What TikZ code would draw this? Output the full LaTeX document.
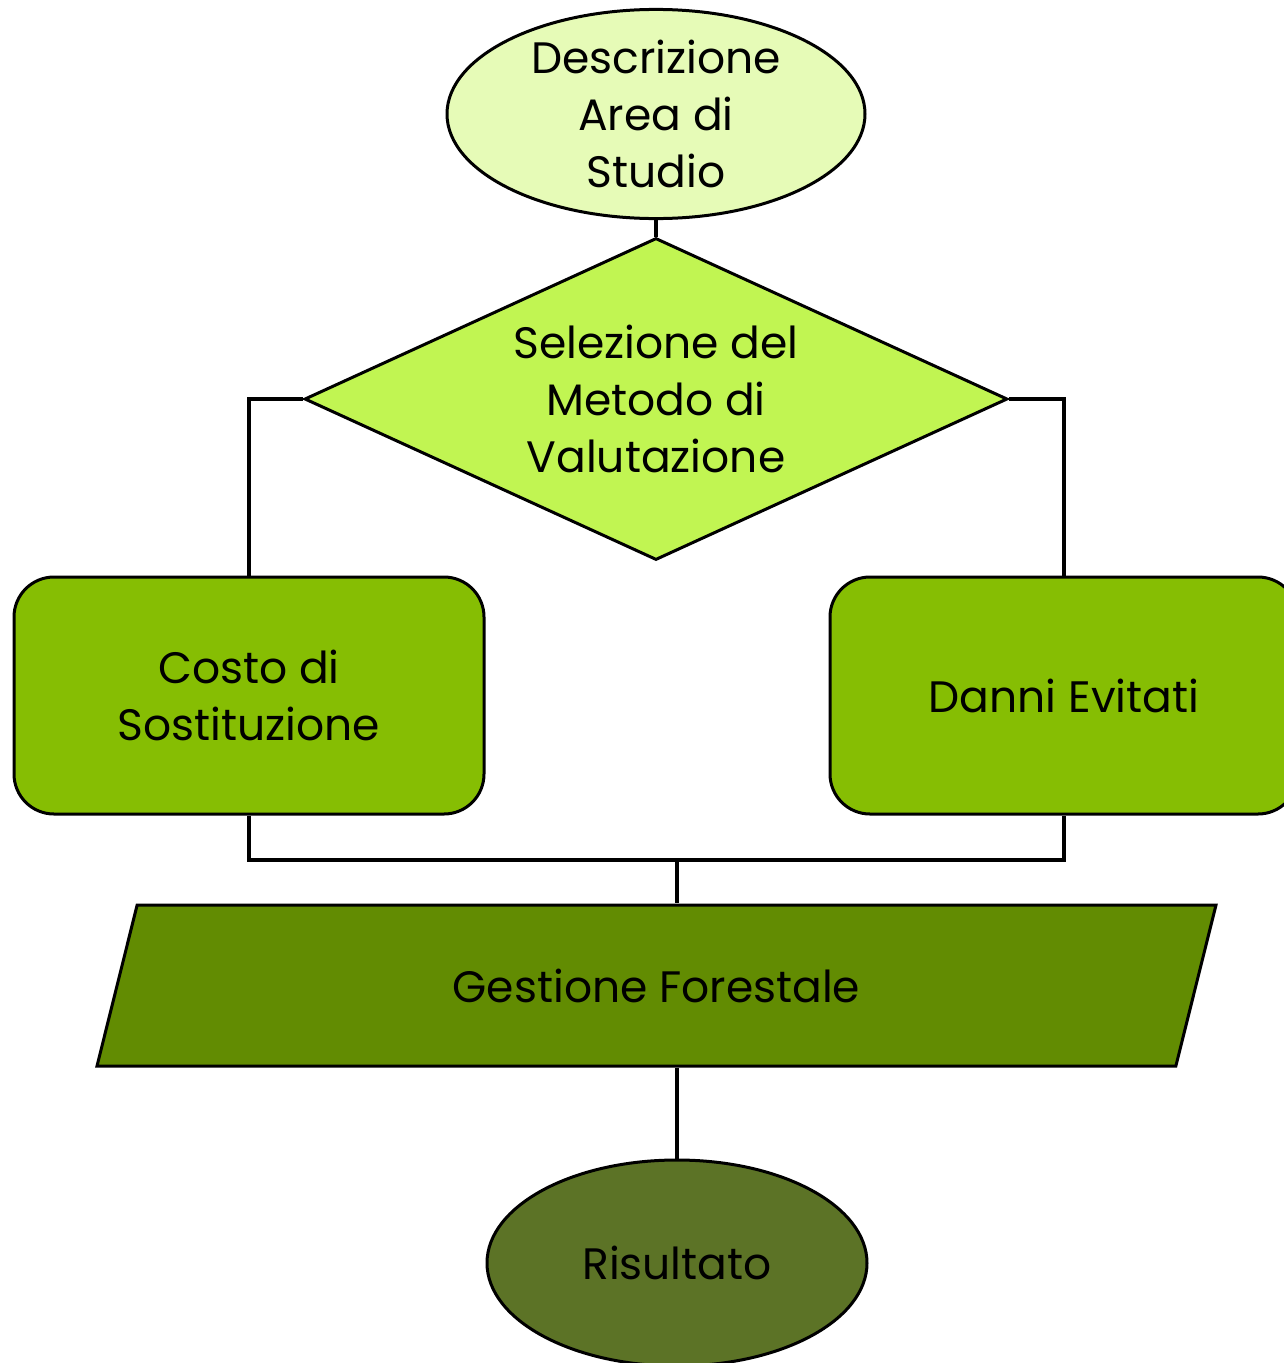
\documentclass[tikz,border=0pt]{standalone}
\usepackage{fontspec}
\setmainfont{Poppins}
\usetikzlibrary{shapes.geometric}
\usetikzlibrary{positioning}

\definecolor{areagreen}{RGB}{230,251,183}
\definecolor{selgreen}{RGB}{193,245,82}
\definecolor{metgreen}{RGB}{134,190,3}
\definecolor{gestgreen}{RGB}{98,140,2}
\definecolor{risgreen}{RGB}{92,115,38}

\begin{document}
\begin{tikzpicture}[x=1pt,y=-1pt,
    every node/.style={font=\fontsize{44}{57}\selectfont,text=black,inner sep=0pt},
    start node/.style={ellipse,draw,line width=3pt,minimum width=418pt,minimum height=206pt,align=center},
    sel node/.style={diamond,aspect=2.18,draw,line width=3pt,fill=selgreen,minimum width=703pt,minimum height=322pt,align=center},
    met node/.style={rectangle,rounded corners=40pt,draw,line width=3pt,fill=metgreen,minimum width=470pt,minimum height=237pt,align=center},
    gest node/.style={trapezium,trapezium left angle=76,trapezium right angle=104,trapezium stretches body,
        text height=97pt,text depth=64pt,draw,line width=3pt,fill=gestgreen,minimum width=1119pt},
    link/.style={draw,line width=3.6pt}
    ]
    \useasboundingbox (0,0) rectangle (1283,1363);

    \node[start node,fill=areagreen](area) at (656,114){Descrizione\\Area di\\Studio};
    \node[sel node](sel) at (656,399){Selezione del\\Metodo di\\Valutazione};
    \node[met node](costo) at (249,695.5){Costo di\\Sostituzione};
    \node[met node,minimum width=468pt](danni) at (1064,695.5){Danni Evitati};
    \node[gest node](gest) at (656.5,985.5){Gestione Forestale};
    \node[start node,fill=risgreen,minimum width=380pt](ris) at (677,1263){Risultato};

    \coordinate (join) at (677,860);

    \path[link] (area.south) -- (sel.north);
    \path[link] (sel.west) -| (costo.north);
    \path[link] (sel.east) -| (danni.north);
    \path[link] (costo.south) |- (join) -| (danni.south);
    \path[link] (join) -- (join |- gest.north);
    \path[link] (ris.north |- gest.south) -- (ris.north);
\end{tikzpicture}
\end{document}
